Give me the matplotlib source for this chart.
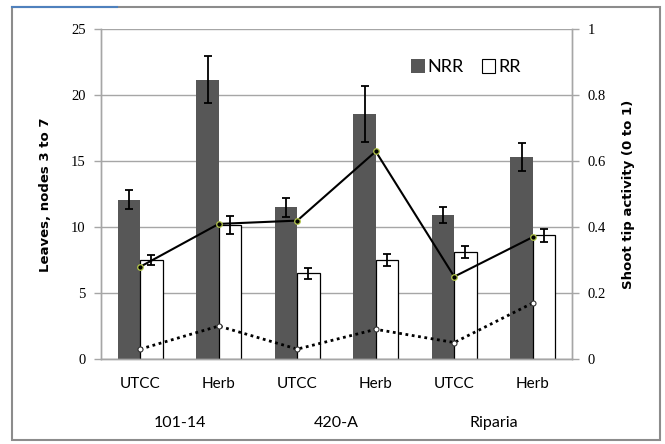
import matplotlib
matplotlib.use('Agg')
import matplotlib.pyplot as plt
from matplotlib.patches import Rectangle, Patch
from matplotlib.lines import Line2D
import numpy as np

# rootstock / treatment layout
categories = ['UTCC', 'Herb', 'UTCC', 'Herb', 'UTCC', 'Herb']
groups = ['101-14', '420-A', 'Riparia']

# leaves on nodes 3 to 7 (left axis)
nrr_leaves = [12.1, 21.2, 11.5, 18.6, 10.9, 15.35]
nrr_err = [0.75, 1.8, 0.7, 2.15, 0.6, 1.05]
rr_leaves = [7.5, 10.15, 6.5, 7.5, 8.1, 9.4]
rr_err = [0.4, 0.7, 0.4, 0.45, 0.45, 0.5]

# shoot tip activity (right axis)
tip_solid = [0.28, 0.41, 0.42, 0.63, 0.25, 0.37]
tip_dotted = [0.03, 0.10, 0.03, 0.09, 0.05, 0.17]

narrow = ['Lato', 'DejaVu Sans']
serif = ['Liberation Serif', 'DejaVu Serif']
grey = '#a6a6a6'

fig = plt.figure(figsize=(6.65, 4.44), dpi=100)
ax = fig.add_axes([101 / 665, 85 / 444, 471 / 665, 329.5 / 444])
ax2 = ax.twinx()

x = np.arange(len(categories))
w = 0.285

ax.bar(x - w / 2, nrr_leaves, w, color='#575757', edgecolor='none', zorder=2)
ax.bar(x + w / 2, rr_leaves, w, color='white', edgecolor='black', linewidth=0.9, zorder=2)
ax.errorbar(x - w / 2, nrr_leaves, yerr=nrr_err, fmt='none', ecolor='black',
            elinewidth=1.3, capsize=2.8, capthick=1.3, zorder=3)
ax.errorbar(x + w / 2, rr_leaves, yerr=rr_err, fmt='none', ecolor='black',
            elinewidth=1.3, capsize=2.8, capthick=1.3, zorder=3)

ax.set_xlim(-0.5, len(categories) - 0.5)
ax.set_ylim(0, 25)
ax.set_yticks([0, 5, 10, 15, 20, 25])
ax.yaxis.grid(True, color=grey, linewidth=1.0, zorder=0)
ax.set_axisbelow(True)
ax.set_xticks(x)
ax.set_xticklabels(categories, family=narrow, fontsize=11)
ax.tick_params(axis='x', length=0, pad=13)
ax.tick_params(axis='y', length=5, width=1, color=grey, labelsize=10.5, pad=6)
for lab in ax.get_yticklabels():
    lab.set_family(serif)
ax.set_ylabel('Leaves, nodes 3 to 7', fontsize=9.5, fontweight='bold', labelpad=14)

ax2.plot(x, tip_solid, color='black', linewidth=1.5, marker='o', markersize=4,
         markerfacecolor='black', markeredgecolor='#b5c84a', markeredgewidth=0.9, zorder=4)
ax2.plot(x, tip_dotted, color='black', linewidth=2.0, linestyle=(0, (1, 1.3)),
         marker='o', markersize=3.6, markerfacecolor='white', markeredgecolor='#333333',
         markeredgewidth=0.8, zorder=4)
ax2.set_ylim(0, 1)
ax2.set_yticks([0, 0.2, 0.4, 0.6, 0.8, 1])
ax2.set_yticklabels(['0', '0.2', '0.4', '0.6', '0.8', '1'])
ax2.tick_params(axis='y', length=5, width=1, color=grey, labelsize=10.5, pad=6)
for lab in ax2.get_yticklabels():
    lab.set_family(serif)
ax2.set_ylabel('Shoot tip activity (0 to 1)', fontsize=9.5, fontweight='bold', labelpad=12)

for a in (ax, ax2):
    a.spines['top'].set_visible(False)
    for s in ('left', 'right', 'bottom'):
        a.spines[s].set_color(grey)
        a.spines[s].set_linewidth(1.0)

# rootstock names under each pair
for i, g in enumerate(groups):
    ax.text(2 * i + 0.5, -0.195, g, transform=ax.get_xaxis_transform(),
            ha='center', va='center', fontsize=11.5, family=narrow)

handles = [Patch(facecolor='#575757', edgecolor='none', label='NRR'),
           Patch(facecolor='white', edgecolor='black', linewidth=0.8, label='RR')]
ax.legend(handles=handles, loc='center', bbox_to_anchor=(0.775, 0.885), ncol=2,
          frameon=False, handlelength=0.75, handleheight=0.75, handletextpad=0.15,
          columnspacing=1.0, prop={'family': narrow, 'size': 13})

# chart frame
fig.patches.append(Rectangle((12 / 665, 4 / 444), 648 / 665, 433 / 444, transform=fig.transFigure,
                             fill=False, edgecolor='#8c8c8c', linewidth=1.5))
fig.lines.append(Line2D([12 / 665, 117 / 665], [437 / 444, 437 / 444], transform=fig.transFigure,
                        color='#4f81bd', linewidth=1.5))

fig.savefig('out.png', dpi=100)
